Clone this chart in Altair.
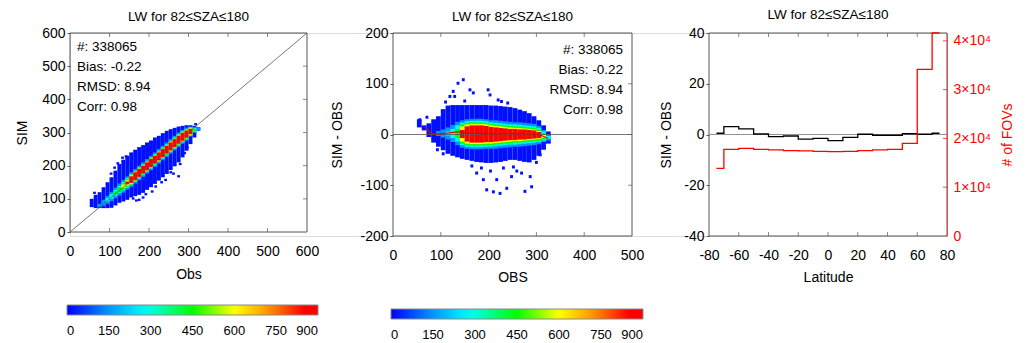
import altair as alt
import pandas as pd

FONT = "Liberation Sans"

# ---------------- data ----------------
title_text = "LW for 82≤SZA≤180"
stats_lines = ["#: 338065", "Bias: -0.22", "RMSD: 8.94", "Corr: 0.98"]

cbar_values = [0, 150, 300, 450, 600, 750, 900]
color_stops = [0, 150, 280, 450, 600, 720, 850, 900]
color_hex = ["#0000ff", "#0096ff", "#00ffff", "#00ff00", "#ffff00", "#ff9600", "#ff0000", "#ff0000"]
band_names = ["blue", "lb", "cyan", "green", "yellow", "red"]
band_levels = [15, 150, 290, 450, 600, 900]

# Panel 1: SIM vs Obs density (columns of 10 W/m2 in Obs)
p1_xticks = [0, 100, 200, 300, 400, 500, 600]
p1_yticks = [0, 100, 200, 300, 400, 500, 600]
p1_col = [50, 60, 70, 80, 90, 100, 110, 120, 130, 140, 150, 160, 170, 180,
          190, 200, 210, 220, 230, 240, 250, 260, 270, 280, 290, 300, 310, 320]
p1_blue_lo = [75, 72, 72, 72, 72, 73, 80, 88, 92, 97, 104, 108, 112, 118,
              127, 135, 145, 155, 165, 175, 187, 198, 210, 225, 245, 265, 285, 305]
p1_blue_hi = [100, 112, 120, 135, 150, 165, 185, 205, 218, 230, 240, 248, 256, 262,
              270, 276, 285, 290, 298, 305, 310, 314, 318, 320, 322, 322, 320, 316]
p1_center = [57, 67, 80, 88, 97, 107, 118, 128, 138, 148, 158, 168, 178, 188,
             198, 208, 218, 228, 238, 248, 258, 268, 278, 287, 295, 303, 308, 311]
p1_hw = {
    "lb":     [0, 0, 5, 9, 12, 14, 16, 18, 19, 20, 22, 22, 22, 22, 22, 22, 22, 22, 22, 22, 22, 22, 22, 21, 20, 15, 9, 4],
    "cyan":   [0, 0, 0, 0, 5, 7, 9, 11, 13, 15, 17, 17, 17, 17, 17, 17, 17, 17, 17, 17, 17, 17, 17, 17, 16, 13, 6, 0],
    "green":  [0, 0, 0, 0, 0, 0, 5, 8, 10, 12, 15, 15, 15, 15, 15, 15, 15, 15, 15, 15, 15, 15, 15, 15, 14, 11, 3, 0],
    "yellow": [0, 0, 0, 0, 0, 0, 0, 0, 5, 8, 13, 13, 13, 13, 13, 13, 13, 13, 13, 13, 13, 13, 13, 13, 12, 10, 0, 0],
    "red":    [0, 0, 0, 0, 0, 0, 0, 0, 0, 4, 10, 12, 12, 12, 12, 12, 12, 12, 12, 12, 12, 12, 12, 12, 11, 8, 0, 0],
}
p1_out_obs = [62, 104, 113, 121, 133, 142, 160, 168, 175, 185, 192, 200, 208, 217,
              225, 232, 242, 255, 262, 275, 279, 290, 297, 318]
p1_out_sim = [118, 176, 194, 207, 224, 228, 101, 95, 97, 104, 114, 140, 122, 137,
              160, 150, 157, 180, 176, 168, 205, 238, 255, 325]

# Panel 2: SIM-OBS vs OBS density
p2_xticks = [0, 100, 200, 300, 400, 500]
p2_yticks = [-200, -100, 0, 100, 200]
p2_col = p1_col
p2_blue_lo = [14, 8, -5, -16, -24, -31, -38, -42, -45, -48, -50, -52, -54, -55,
              -56, -56, -55, -54, -52, -50, -50, -52, -54, -55, -50, -42, -30, -18]
p2_blue_hi = [30, 18, 22, 30, 36, 50, 57, 58, 58, 58, 58, 58, 58, 58,
              58, 57, 57, 56, 55, 54, 52, 49, 46, 42, 36, 28, 18, 6]
p2_center = [20, 12, 5, 3, 2, 2, 2, 2, 2, 1, 1, 1, 1, 1,
             1, 0, 0, 0, 0, 0, 0, 0, 0, 0, 0, -1, -3, -6]
p2_hw = {
    "lb":     [0, 0, 0, 0, 5, 8, 12, 17, 23, 27, 29, 30, 30, 30, 29, 28, 28, 27, 26, 25, 24, 24, 23, 22, 21, 18, 12, 6],
    "cyan":   [0, 0, 0, 0, 0, 0, 4, 9, 16, 22, 25, 26, 26, 26, 25, 24, 23, 22, 21, 20, 20, 19, 18, 17, 16, 14, 9, 3],
    "green":  [0, 0, 0, 0, 0, 0, 0, 0, 9, 19, 22, 23, 23, 23, 22, 21, 20, 19, 18, 17, 16, 16, 15, 14, 13, 11, 6, 0],
    "yellow": [0, 0, 0, 0, 0, 0, 0, 0, 0, 15, 19, 20, 20, 20, 19, 18, 17, 16, 15, 14, 13, 13, 12, 11, 10, 8, 3, 0],
    "red":    [0, 0, 0, 0, 0, 0, 0, 0, 0, 8, 15, 17, 17, 17, 16, 15, 14, 13, 12, 11, 11, 10, 10, 9, 8, 6, 0, 0],
}
p2_out_obs = [56, 71, 119, 126, 129, 136, 147, 161, 168, 199, 203, 220, 227, 110, 150, 240,
              175, 185, 189, 196, 210, 217, 224, 231, 238, 248, 259, 269, 276, 287, 290,
              165, 204, 252, 300, 308, 93, 105]
p2_out_dif = [29, 34, 75, 85, 75, 101, 108, 88, 82, 88, 78, 68, 65, 64, 66, 62,
              -76, -66, -89, -109, -113, -89, -116, -66, -106, -83, -72, -76, -112, -83, -103,
              -62, -72, -64, -55, -40, -30, -38]
p2_mean_obs = [67, 72, 77, 82, 87, 95, 105, 115, 125, 135, 145, 160, 180, 200,
               220, 240, 260, 280, 300, 310, 318, 325]
p2_mean_dif = [15, 10, 4, 2, 1, 1, 2, 3, 4, 5, 4, 3, 2, 1, 1, 1, 1, 1, 0, -2, -5, -8]

# Panel 3: zonal bias and number of FOVs
p3_xticks = [-80, -60, -40, -20, 0, 20, 40, 60, 80]
p3_yticks = [-40, -20, 0, 20, 40]
p3_rticks = [0, 10000, 20000, 30000, 40000]
p3_lat = [-75, -65, -55, -45, -35, -25, -15, -5, 5, 15, 25, 35, 45, 55, 65, 75]
p3_bias = [0.5, 3.1, 2.2, 0.2, -0.85, -0.6, -1.8, -1.5, -2.4, -1.1, 0.1, -0.3, -0.3, 0.3, 0.1, 0.5]
p3_fovs = [13870, 17770, 17970, 17770, 17630, 17500, 17430, 17360, 17290, 17360,
           17500, 17630, 17770, 19000, 34160, 41600]

# ---------------- layout (pixels inside the view) ----------------
W, H = 877, 203
P1X, P1Y = [0, 237], [199, 0]
P2X, P2Y = [323, 562], [203, 0]
P3X, P3Y = [639, 877], [203, 0]
D1X, D1Y = [p1_xticks[0], p1_xticks[-1]], [p1_yticks[0], p1_yticks[-1]]
D2X, D2Y = [p2_xticks[0], p2_xticks[-1]], [p2_yticks[0], p2_yticks[-1]]
D3X, D3Y = [p3_xticks[0], p3_xticks[-1]], [p3_yticks[0], p3_yticks[-1]]
D3R = [0, max(p3_fovs)]

FRAME = "#555555"
RED = "#ff0000"
PLAIN = "'' + datum.value"


def sc(dom, rng):
    return alt.Scale(domain=dom, range=rng, nice=False, zero=False)


def ex(field, dom, rng, axis=None):
    return alt.X(f"{field}:Q", scale=sc(dom, rng), axis=axis)


def ey(field, dom, rng, axis=None):
    return alt.Y(f"{field}:Q", scale=sc(dom, rng), axis=axis)


def bottom_axis(values, title, offset, title_y):
    return alt.Axis(orient="bottom", values=values, title=title, offset=offset,
                    grid=False, domain=False, ticks=False, tickSize=0, labelPadding=12,
                    labelFont=FONT, labelFontSize=14, labelColor="black",
                    labelFlush=False, labelOverlap=False, labelExpr=PLAIN,
                    titleFont=FONT, titleFontSize=14, titleFontWeight="normal",
                    titleColor="black", titleY=title_y, titleBaseline="middle")


def left_axis(values, title, offset, title_x):
    return alt.Axis(orient="left", values=values, title=title, offset=offset,
                    grid=False, domain=False, ticks=True, tickSize=3, tickColor=FRAME,
                    labelPadding=2, labelFont=FONT, labelFontSize=14, labelColor="black",
                    labelFlush=False, labelOverlap=False, labelExpr=PLAIN,
                    titleFont=FONT, titleFontSize=14, titleFontWeight="normal",
                    titleColor="black", titleX=title_x, titleAngle=270,
                    titleAlign="center", titleBaseline="middle")


def band_table(cols, blue_lo, blue_hi, center, hw, out_x, out_y, cell):
    rows = []
    for i, s in enumerate(cols):
        rows.append(dict(x0=s, x1=s + 10, y0=blue_lo[i], y1=blue_hi[i], lvl=band_levels[0]))
    for ox, oy in zip(out_x, out_y):
        rows.append(dict(x0=ox - cell / 2, x1=ox + cell / 2, y0=oy - cell / 2, y1=oy + cell / 2,
                         lvl=band_levels[0]))
    for name, lvl in zip(band_names[1:], band_levels[1:]):
        for i, s in enumerate(cols):
            h = hw[name][i]
            if h > 0:
                rows.append(dict(x0=s, x1=s + 10, y0=center[i] - h, y1=center[i] + h, lvl=lvl))
    return pd.DataFrame(rows)


def cbar_legend(lx, ly, length):
    return alt.Legend(orient="none", legendX=lx, legendY=ly, direction="horizontal",
                      gradientLength=length, gradientThickness=10, values=cbar_values,
                      title=None, labelFont=FONT, labelFontSize=13, labelColor="black",
                      labelAlign="center", labelOffset=10, gradientStrokeColor="#888888",
                      gradientStrokeWidth=1, padding=0)


def heat(df, dx, rx, dy, ry, legend):
    return alt.Chart(df).mark_rect(strokeWidth=0).encode(
        x=ex("x0", dx, rx), x2="x1", y=ey("y0", dy, ry), y2="y1",
        color=alt.Color("lvl:Q", scale=alt.Scale(domain=color_stops, range=color_hex,
                                                 interpolate="rgb"), legend=legend),
        order=alt.Order("lvl:Q"))


def frame(dx, rx, dy, ry, xaxis, yaxis):
    df = pd.DataFrame({"x0": [dx[0]], "x1": [dx[1]], "y0": [dy[0]], "y1": [dy[1]]})
    return alt.Chart(df).mark_rect(fill="transparent", stroke=FRAME, strokeWidth=1).encode(
        x=ex("x0", dx, rx, xaxis), x2="x1", y=ey("y0", dy, ry, yaxis), y2="y1")


def inner_ticks(dx, rx, dy, ry, xvals, yvals, color=FRAME, dyr=None):
    out = []
    top = pd.DataFrame({"v": xvals, "e": dy[1]})
    bot = pd.DataFrame({"v": xvals, "e": dy[0]})
    out.append(alt.Chart(top).mark_tick(orient="vertical", size=4, thickness=1, yOffset=2,
                                        color=FRAME).encode(x=ex("v", dx, rx), y=ey("e", dy, ry)))
    out.append(alt.Chart(bot).mark_tick(orient="vertical", size=4, thickness=1, yOffset=-2,
                                        color=FRAME).encode(x=ex("v", dx, rx), y=ey("e", dy, ry)))
    rdom = dyr if dyr is not None else dy
    right = pd.DataFrame({"v": yvals, "e": dx[1]})
    out.append(alt.Chart(right).mark_tick(orient="horizontal", size=4, thickness=1, xOffset=-2,
                                          color=color).encode(x=ex("e", dx, rx), y=ey("v", rdom, ry)))
    return out


def title_mark(dx, rx, dy, ry, off):
    df = pd.DataFrame({"x": [(dx[0] + dx[1]) / 2], "y": [dy[1]], "t": [title_text]})
    return alt.Chart(df).mark_text(dy=off, font=FONT, fontSize=13.5, color="black",
                                   baseline="middle").encode(
        x=ex("x", dx, rx), y=ey("y", dy, ry), text="t:N")


def stats_mark(x, dx, rx, dy, ry, align, xoff, yoff):
    df = pd.DataFrame({"x": [x], "y": [dy[1]], "t": ["\n".join(stats_lines)]})
    return alt.Chart(df).mark_text(align=align, baseline="top", dx=xoff, dy=yoff,
                                   lineBreak="\n", lineHeight=20, font=FONT, fontSize=13.5,
                                   color="black").encode(
        x=ex("x", dx, rx), y=ey("y", dy, ry), text="t:N")


def line(xs, ys, dx, rx, dy, ry, color, width, interp="linear", yaxis=None):
    df = pd.DataFrame({"x": xs, "y": ys})
    return alt.Chart(df).mark_line(color=color, strokeWidth=width, interpolate=interp).encode(
        x=ex("x", dx, rx), y=ey("y", dy, ry, yaxis), order="x:Q")


# ---------------- panel 1 ----------------
h1 = heat(band_table(p1_col, p1_blue_lo, p1_blue_hi, p1_center, p1_hw, p1_out_obs, p1_out_sim, 7),
          D1X, P1X, D1Y, P1Y, cbar_legend(-3, 272, 251))
diag1 = line(D1X, D1Y, D1X, P1X, D1Y, P1Y, "#555555", 0.8)
f1 = frame(D1X, P1X, D1Y, P1Y, bottom_axis(p1_xticks, "Obs", -4, 42),
           left_axis(p1_yticks, "SIM", 0, -48))
t1 = inner_ticks(D1X, P1X, D1Y, P1Y, p1_xticks[1:-1], p1_yticks[1:-1])
tt1 = title_mark(D1X, P1X, D1Y, P1Y, -16)
s1 = stats_mark(D1X[0], D1X, P1X, D1Y, P1Y, "left", 7, 7)

# ---------------- panel 2 ----------------
h2 = heat(band_table(p2_col, p2_blue_lo, p2_blue_hi, p2_center, p2_hw, p2_out_obs, p2_out_dif, 6),
          D2X, P2X, D2Y, P2Y, cbar_legend(321, 276, 252))
zero2 = line(D2X, [0, 0], D2X, P2X, D2Y, P2Y, "#555555", 0.8)
mean2 = line(p2_mean_obs, p2_mean_dif, D2X, P2X, D2Y, P2Y, "#e00000", 1.2, "monotone")
f2 = frame(D2X, P2X, D2Y, P2Y, bottom_axis(p2_xticks, "OBS", 0, 41),
           left_axis(p2_yticks, "SIM - OBS", -323, -56))
t2 = inner_ticks(D2X, P2X, D2Y, P2Y, p2_xticks[1:-1], p2_yticks[1:-1])
tt2 = title_mark(D2X, P2X, D2Y, P2Y, -16)
s2 = stats_mark(D2X[1], D2X, P2X, D2Y, P2Y, "right", -9, 10)

# ---------------- panel 3 ----------------
f3 = frame(D3X, P3X, D3Y, P3Y, bottom_axis(p3_xticks, "Latitude", 0, 41),
           left_axis(p3_yticks, "SIM - OBS", -639, -43))
zero3 = line(D3X, [0, 0], D3X, P3X, D3Y, P3Y, "#777777", 0.8)
bias3 = line(p3_lat, p3_bias, D3X, P3X, D3Y, P3Y, "black", 1.3, "step")
right_axis = alt.Axis(orient="right", values=p3_rticks, title="# of FOVs", offset=0,
                      grid=False, domain=True, domainColor="#e05050", domainWidth=1,
                      ticks=False, tickSize=0, labelPadding=6, labelFont=FONT,
                      labelFontSize=14, labelColor=RED, labelFlush=False, labelOverlap=False,
                      labelExpr="datum.value == 0 ? '0' : format(datum.value / 10000, 'd') + '×10⁴'",
                      titleFont=FONT, titleFontSize=14, titleFontWeight="normal",
                      titleColor=RED, titleX=60, titleAngle=270, titleAlign="center",
                      titleBaseline="middle", zindex=1)
fov3 = line(p3_lat, p3_fovs, D3X, P3X, D3R, P3Y, RED, 1.3, "step", right_axis)
t3 = inner_ticks(D3X, P3X, D3Y, P3Y, p3_xticks[1:-1], p3_rticks[1:], RED, D3R)
tt3 = title_mark(D3X, P3X, D3Y, P3Y, -18)

layers = [h1, h2, diag1, zero2, mean2, f1, f2, f3, zero3, bias3, fov3] + t1 + t2 + t3 + \
         [tt1, tt2, tt3, s1, s2]

chart = alt.layer(*layers).resolve_scale(
    x="independent", y="independent", color="independent"
).resolve_axis(x="independent", y="independent").resolve_legend(
    color="independent"
).properties(
    width=W, height=H,
    padding={"left": 62, "top": 25, "right": 74, "bottom": 112},
    autosize=alt.AutoSizeParams(type="none"),
    background="white",
).configure_view(strokeWidth=0).configure(font=FONT)

chart.save("out.html", embed_options={"renderer": "svg", "actions": False})
